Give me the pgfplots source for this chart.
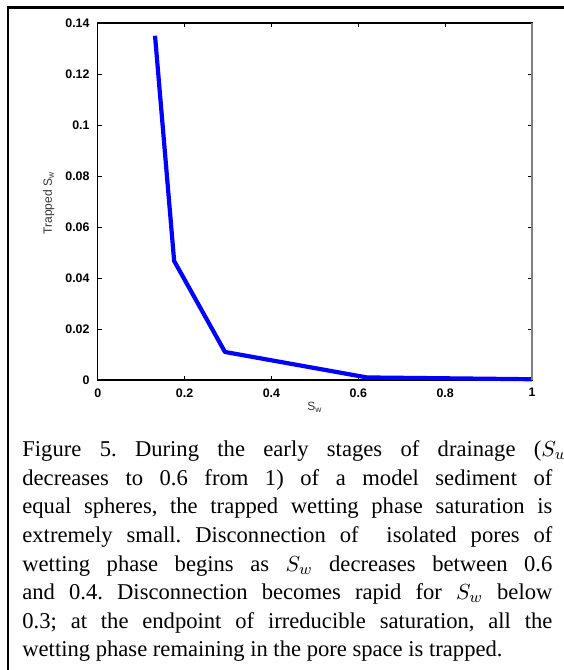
\documentclass[border=0pt]{standalone}
\usepackage{fontspec}
\usepackage{pgfplots}
\pgfplotsset{compat=1.18}
\setmainfont{Liberation Serif}
\newfontfamily\plotfont{Liberation Sans}

\begin{document}
\begin{tikzpicture}
% page: 564 x 670 px at 0.5 bp per px, origin at top left
\path[use as bounding box] (0,0) rectangle (282bp,-335bp);
\draw[line width=1.4bp] (4bp,-3.65bp) -- (282bp,-3.65bp);
\draw[line width=1.4bp] (4bp,-3.0bp) -- (4bp,-335bp);

\begin{axis}[
  at={(48.85bp,-190bp)}, anchor=south west,
  scale only axis,
  width=217.15bp, height=178.5bp,
  xmin=0, xmax=1, ymin=0, ymax=0.14,
  clip=false,
  axis line style={black, line width=0.6bp},
  tick style={black, line width=0.5bp},
  major tick length=2bp,
  tick align=inside,
  xtick={0,0.2,0.4,0.6,0.8,1},
  xticklabels={0,0.2,0.4,0.6,0.8,1},
  ytick={0,0.02,0.04,0.06,0.08,0.1,0.12,0.14},
  yticklabels={0,0.02,0.04,0.06,0.08,0.1,0.12,0.14},
  ticklabel style={font=\plotfont\bfseries\fontsize{6.2bp}{7bp}\selectfont, inner sep=0pt},
  xticklabel style={anchor=north, yshift=-4bp},
  yticklabel style={anchor=east, xshift=-3.9bp},
  xlabel={S\textsubscript{w}},
  ylabel={Trapped S\textsubscript{w}},
  label style={font=\plotfont\fontsize{6bp}{7bp}\selectfont, text=black!80, inner sep=0pt},
  xlabel style={at={(axis description cs:0.5,-0.0756)}, anchor=center},
  ylabel style={at={(axis description cs:-0.1128,0.496)}, anchor=center, rotate=0},
]
\addplot[blue, line width=2.1bp, line join=round] coordinates {
  (0.132,0.135)
  (0.176,0.0467)
  (0.293,0.011)
  (0.62,0.001)
  (1,0.0003)
};
\draw[gray, line width=0.9bp] (rel axis cs:1,0) -- (rel axis cs:1,1);
\end{axis}

\node[anchor=base west, inner sep=0pt] at (11bp,-228.35bp) {%
  \vtop{\hsize=265bp \fontsize{11.3bp}{14.29bp}\selectfont
    \baselineskip=14.29bp \frenchspacing
    \hbox to 259.5bp{Figure 5. During the early stages of drainage (\rlap{$S_w$}}
    \hbox to\hsize{decreases to 0.6 from 1) of a model sediment of}
    \hbox to\hsize{equal spheres, the trapped wetting phase saturation is}
    \hbox to\hsize{extremely small. Disconnection of \ isolated pores of}
    \hbox to\hsize{wetting phase begins as $S_w$ decreases between 0.6}
    \hbox to\hsize{and 0.4. Disconnection becomes rapid for $S_w$ below}
    \hbox to\hsize{0.3; at the endpoint of irreducible saturation, all the}
    \hbox to\hsize{wetting phase remaining in the pore space is trapped.\hfil}
  }};
\end{tikzpicture}
\end{document}
